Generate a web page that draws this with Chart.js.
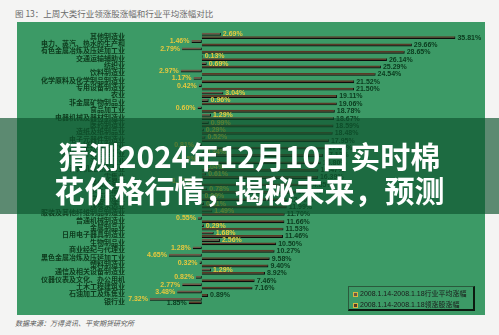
<!DOCTYPE html>
<html>
<head>
<meta charset="utf-8">
<script src="https://cdn.jsdelivr.net/npm/chart.js@4.4.1/dist/chart.umd.min.js"></script>
<style>
  body { margin: 0; width: 499px; height: 335px; background: #f4f4f3; position: relative; overflow: hidden; font-family: "Noto Sans CJK SC", sans-serif; }
  #title { position: absolute; left: 15px; top: 7px; font-size: 8.5px; color: #6a6a6a; white-space: nowrap; }
  #panel { position: absolute; left: 17px; top: 22px; width: 468px; height: 293px; background: #3c9a66; }
  #panel canvas { position: absolute; left: 0; top: 0; }
  #legend { position: absolute; left: 331px; top: 264px; width: 124px; height: 22px; border-right: 2px solid #0c1a10; border-bottom: 2px solid #0c1a10; border-left: 1px solid #2a5a3c; border-top: 1px solid #2a5a3c; font-family: "Liberation Sans", "Noto Sans CJK SC", sans-serif; font-size: 7px; color: #1a1a1a; }
  #legend div { position: absolute; left: 4px; white-space: nowrap; line-height: 9px; }
  #legend span.m { display: inline-block; width: 3px; height: 3px; margin-right: 2px; vertical-align: middle; border: 1px solid #d8b840; }
  #source { position: absolute; left: 15px; top: 318px; font-size: 7px; font-style: italic; color: #555; white-space: nowrap; }
  #banner { position: absolute; left: 0; top: 118px; width: 499px; height: 96px; background: rgba(14, 84, 45, 0.66); }
  #headline { position: absolute; left: 0; top: 138px; width: 499px; text-align: center; color: #fff; font-weight: bold; font-size: 30px; line-height: 34px; }
</style>
</head>
<body>
<div id="title">图 13：上周大类行业领涨股涨幅和行业平均涨幅对比</div>
<div id="panel">
  <canvas id="grafico" width="468" height="293"></canvas>
  <div id="legend"></div>
</div>
<div id="source">数据来源：万得资讯、平安期货研究所</div>
<div id="banner"></div>
<div id="headline">猜测2024年12月10日实时棉<br>花价格行情，揭秘未来，预测</div>
<script>
// 行业分类
const categories = [
  '其他制造业', '电力、蒸汽、热水的生产和', '有色金属冶炼及压延加工业', '交通运输辅助业', '纺织业',
  '饮料制造业', '化学原料及化学制品制造业', '专用设备制造业', '农业', '非金属矿物制品业',
  '食品加工业', '电器机械及器材制造业', '医药制造业', '造纸及纸制品业', '电子元器件制造业',
  '化学纤维制造业', '房地产开发与经营业', '汽车制造业', '计算机应用服务业', '零售业',
  '通信服务业', '水上运输业', '食品制造业', '煤炭采选业', '服装及其他纤维制品制造业',
  '普通机械制造业', '金属制品业', '日用电子器具制造业', '生物制品业', '商业经纪与代理业',
  '黑色金属冶炼及压延加工业', '塑料制造业', '通信及相关设备制造业', '仪器仪表及文化、办公用机', '土木工程建筑业',
  '石油加工及炼焦业', '银行业'
];

// 行业平均涨幅 (%)
const avgChange = [
  2.69, -1.46, -2.79, 0.13, 0.69, -2.97, -1.17, -0.42, 3.04, 0.96,
  -0.60, 1.29, 0.99, 0.29, 0.52, -0.81, 0.34, -0.45, 0.04, 0.61,
  -1.12, 0.78, 0.09, 0.31, 1.49, -0.55, 0.29, 1.68, 2.56, -1.28,
  -4.65, -0.32, 1.29, -0.82, -2.77, -3.48, -7.32
];

// 领涨股涨幅 (%)
const leadChange = [
  35.81, 29.66, 28.65, 26.14, 25.29, 24.54, 21.52, 21.50, 19.11, 19.06,
  18.78, 18.67, 18.59, 18.48, 17.95, 17.60, 17.12, 16.80, 16.47, 16.39,
  14.85, 13.26, 12.10, 11.99, 11.70, 11.66, 11.53, 11.46, 10.50, 10.27,
  9.58, 9.40, 8.92, 7.46, 7.16, 0.89, -1.85
];

const seriesNames = ['2008.1.14-2008.1.18行业平均涨幅', '2008.1.14-2008.1.18领涨股涨幅'];

const barColors = ['#6e5847', '#5a3a27'];
const labelColors = ['#e6c83e', '#0a3a1d'];

// legenda em HTML
const legendBox = document.getElementById('legend');
seriesNames.forEach((name, i) => {
  const row = document.createElement('div');
  row.style.top = (2 + i * 11) + 'px';
  row.innerHTML = '<span class="m" style="background:' + barColors[i] + '"></span>' + name;
  legendBox.appendChild(row);
});

// rótulos nas pontas das barras
const barLabels = {
  id: 'barLabels',
  afterDatasetsDraw(chart) {
    const ctx = chart.ctx;
    ctx.save();
    ctx.font = 'bold 7px "Liberation Sans", Arial, sans-serif';
    ctx.textBaseline = 'middle';
    chart.data.datasets.forEach((ds, i) => {
      const meta = chart.getDatasetMeta(i);
      meta.data.forEach((bar, j) => {
        const v = ds.data[j];
        const txt = Math.abs(v).toFixed(2) + '%';
        ctx.fillStyle = labelColors[i];
        if (v < 0) {
          ctx.textAlign = 'right';
          ctx.fillText(txt, bar.x - 2, bar.y);
        } else {
          ctx.textAlign = 'left';
          ctx.fillText(txt, bar.x + 2, bar.y);
        }
      });
    });
    ctx.restore();
  }
};

const ctxGrafico = document.getElementById('grafico').getContext('2d');
const grafico = new Chart(ctxGrafico, {
  type: 'bar',
  data: {
    labels: categories,
    datasets: [{
      label: seriesNames[0],
      data: avgChange,
      backgroundColor: barColors[0],
      borderColor: '#0d0d0d',
      borderWidth: { bottom: 1.2, right: 1 },
      borderSkipped: false
    }, {
      label: seriesNames[1],
      data: leadChange,
      backgroundColor: barColors[1],
      borderColor: '#0d0d0d',
      borderWidth: { bottom: 1.2, right: 1 },
      borderSkipped: false
    }]
  },
  options: {
    indexAxis: 'y',
    responsive: false,
    animation: false,
    layout: { padding: { top: 7, bottom: 1, left: 0, right: 7 } },
    datasets: { bar: { categoryPercentage: 0.92, barPercentage: 0.85 } },
    scales: {
      x: {
        display: false,
        min: -10,
        max: 39
      },
      y: {
        grid: { display: false, drawTicks: false },
        border: { display: false },
        afterFit: (scale) => { scale.width = 114; },
        ticks: {
          autoSkip: false,
          padding: 6,
          color: '#0d3a1c',
          font: { family: '"Noto Sans CJK SC", sans-serif', size: 7, weight: 'bold' }
        }
      }
    },
    plugins: {
      legend: { display: false },
      tooltip: { enabled: false }
    }
  },
  plugins: [barLabels]
});
</script>
</body>
</html>
